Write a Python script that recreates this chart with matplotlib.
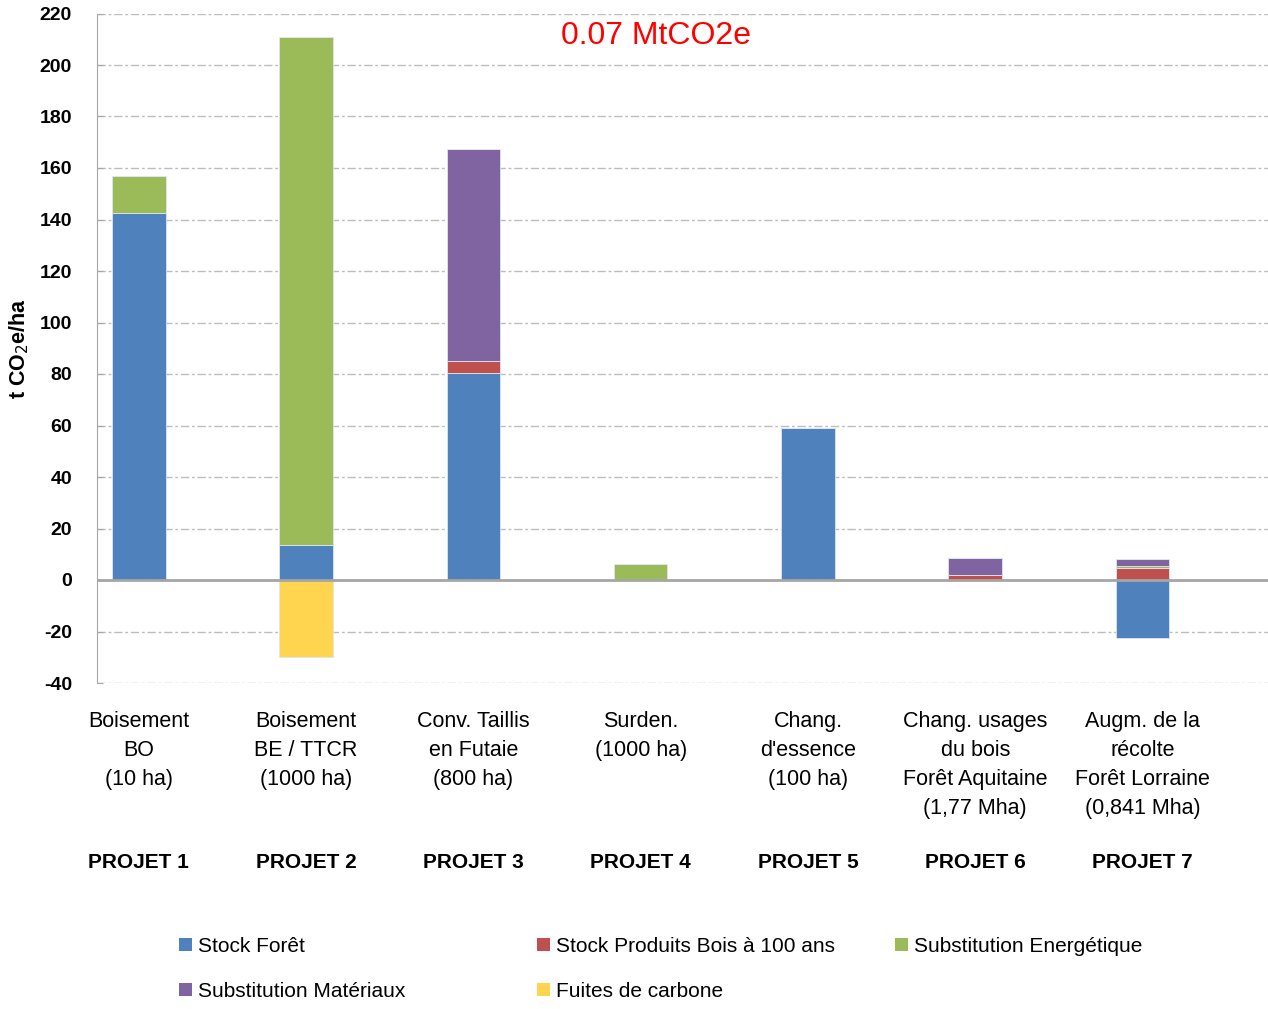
import matplotlib
matplotlib.use("Agg")
import matplotlib.pyplot as plt
import numpy as np
from matplotlib.patches import Patch

plt.rcParams['font.family'] = ['Liberation Sans', 'DejaVu Sans']
plt.rcParams['axes.unicode_minus'] = False

categories = ["Boisement\nBO\n(10 ha)", "Boisement\nBE / TTCR\n(1000 ha)", "Conv. Taillis\nen Futaie\n(800 ha)",
              "Surden.\n(1000 ha)", "Chang.\nd'essence\n(100 ha)", "Chang. usages\ndu bois\nForêt Aquitaine\n(1,77 Mha)",
              "Augm. de la\nrécolte\nForêt Lorraine\n(0,841 Mha)"]
projects = ["PROJET 1", "PROJET 2", "PROJET 3", "PROJET 4", "PROJET 5", "PROJET 6", "PROJET 7"]

stock_foret = [142.5, 13.6, 80.4, 0, 59, 0, -22.5]
stock_produits = [0, 0, 4.6, 0, 0, 2.0, 4.8]
subst_energ = [14.5, 197.4, 0, 6.2, 0, 0, 0.8]
subst_mat = [0, 0, 82.4, 0, 0, 6.5, 2.4]
fuites = [0, -30, 0, 0, 0, 0, 0]

series = [
    ("Stock Forêt", stock_foret, "#4F81BD"),
    ("Stock Produits Bois à 100 ans", stock_produits, "#C0504D"),
    ("Substitution Energétique", subst_energ, "#9BBB59"),
    ("Substitution Matériaux", subst_mat, "#8064A2"),
    ("Fuites de carbone", fuites, "#FFD44F"),
]

W, H = 1268, 1009
fig = plt.figure(figsize=(W / 100, H / 100), dpi=100)
ax = fig.add_axes([97 / W, 1 - 683 / H, 1 - 97 / W, (683 - 13.5) / H])

x = np.arange(len(categories))
pos_bottom = np.zeros(len(x))
neg_bottom = np.zeros(len(x))
for name, vals, col in series:
    v = np.array(vals, dtype=float)
    bottoms = np.where(v >= 0, pos_bottom, neg_bottom)
    ax.bar(x, v, bottom=bottoms, width=0.32, color=col, edgecolor="#dfe6f0", linewidth=0.6, zorder=3)
    pos_bottom += np.where(v > 0, v, 0)
    neg_bottom += np.where(v < 0, v, 0)

ax.set_xlim(-0.25, 6.75)
ax.set_ylim(-40, 220)
ax.set_yticks(np.arange(-40, 221, 20))
ax.yaxis.grid(True, color="#bdbdbd", linestyle=(0, (6, 2, 2, 2)), linewidth=1.0, zorder=0)
ax.set_axisbelow(True)
ax.axhline(0, color="#a6a6a6", linewidth=2, zorder=4)
for s in ["top", "right", "bottom"]:
    ax.spines[s].set_visible(False)
ax.spines["left"].set_color("#a6a6a6")
ax.set_xticks([])
ax.tick_params(axis="y", direction="in", length=4, color="#a6a6a6", labelsize=14, pad=18)
for lbl in ax.get_yticklabels():
    lbl.set_fontweight("bold")
ax.set_ylabel("t CO$_2$e/ha", fontsize=15.5, fontweight="bold")
ax.yaxis.set_label_coords(-0.056, 0.5)

for xi, cat, pr in zip(x, categories, projects):
    ax.text(xi, -50.7, cat, ha="center", va="top", fontsize=15.5, linespacing=1.5,
            transform=ax.transData, clip_on=False)
    ax.text(xi, -109.8, pr, ha="center", va="center", fontsize=15, fontweight="bold",
            transform=ax.transData, clip_on=False)

fig.text(656 / W, 1 - 36 / H, "0.07 MtCO2e", color="red", fontsize=23, ha="center", va="center")

cols = [
    (193, [series[0], series[3]]),
    (551, [series[1], series[4]]),
    (909, [series[2]]),
]
for px, items in cols:
    handles = [Patch(facecolor=c, edgecolor="none", label=n) for n, _, c in items]
    fig.legend(handles=handles, loc="upper left", bbox_to_anchor=((px - 14) / W, 1 - 937 / H),
               frameon=False, fontsize=15, handlelength=0.6, handleheight=0.6,
               handletextpad=0.3, labelspacing=1.25, borderaxespad=0, borderpad=0)

fig.savefig("out.png", dpi=100)
